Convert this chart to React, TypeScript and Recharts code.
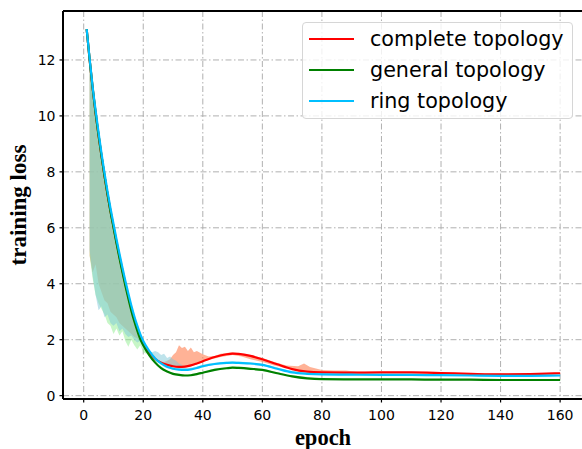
import React from "react";
import {
  ComposedChart,
  Line,
  Area,
  XAxis,
  YAxis,
  CartesianGrid,
  ReferenceLine,
} from "recharts";

// ---- data ----
const lineEpochs = [1, 2, 3, 4, 5, 6, 7, 8, 9, 10, 11, 12, 13, 14, 15, 16, 17, 18, 19, 20, 22, 24, 26, 28, 30, 32, 34, 36, 38, 40, 44, 48, 50, 52, 56, 60, 65, 70, 75, 80, 90, 100, 110, 120, 130, 140, 150, 160];
const completeLoss = [13.1, 12.0, 11.0, 10.1, 9.3, 8.55, 7.85, 7.2, 6.6, 6.05, 5.5, 4.98, 4.48, 4.0, 3.55, 3.12, 2.74, 2.4, 2.1, 1.86, 1.55, 1.32, 1.18, 1.1, 1.05, 1.03, 1.04, 1.08, 1.15, 1.23, 1.38, 1.48, 1.5, 1.49, 1.42, 1.3, 1.12, 0.95, 0.86, 0.83, 0.82, 0.83, 0.83, 0.81, 0.78, 0.76, 0.77, 0.8];
const generalLoss = [13.1, 12.0, 11.0, 10.1, 9.3, 8.55, 7.85, 7.2, 6.58, 6.02, 5.46, 4.93, 4.42, 3.93, 3.47, 3.04, 2.66, 2.32, 2.02, 1.8, 1.45, 1.18, 0.98, 0.86, 0.78, 0.74, 0.72, 0.73, 0.77, 0.82, 0.92, 0.98, 1.0, 0.99, 0.96, 0.92, 0.8, 0.69, 0.62, 0.59, 0.58, 0.58, 0.58, 0.57, 0.57, 0.56, 0.56, 0.56];
const ringLoss = [13.1, 12.05, 11.05, 10.2, 9.4, 8.65, 7.95, 7.3, 6.7, 6.15, 5.6, 5.08, 4.58, 4.1, 3.65, 3.22, 2.84, 2.5, 2.2, 1.95, 1.6, 1.33, 1.15, 1.03, 0.96, 0.93, 0.92, 0.94, 0.99, 1.05, 1.13, 1.17, 1.18, 1.17, 1.15, 1.1, 0.96, 0.83, 0.78, 0.76, 0.75, 0.74, 0.74, 0.73, 0.72, 0.71, 0.71, 0.72];

const bandEpochs = [2, 3, 4, 5, 6, 7, 8, 9, 10, 11, 12, 13, 14, 15, 16, 17, 18, 19, 20, 21, 22, 23, 24, 25, 26, 27, 28, 29, 30, 31, 32, 33, 34, 35, 36, 37, 38, 40, 42, 44, 46, 48, 50, 53, 56, 60, 64, 68, 72, 74, 76, 80, 84, 88, 92, 100, 110, 120, 130, 140, 150, 160];
const completeLow = [5.0, 4.4, 4.7, 4.0, 3.7, 3.4, 3.3, 3.0, 2.9, 2.8, 2.6, 2.5, 2.4, 2.3, 2.2, 2.1, 2.05, 1.95, 1.85, 1.7, 1.55, 1.45, 1.35, 1.28, 1.2, 1.15, 1.1, 1.06, 1.03, 1.01, 1.0, 1.0, 1.01, 1.02, 1.05, 1.08, 1.12, 1.2, 1.28, 1.33, 1.38, 1.42, 1.45, 1.4, 1.3, 1.2, 1.08, 0.98, 0.9, 0.88, 0.85, 0.82, 0.81, 0.8, 0.8, 0.8, 0.8, 0.79, 0.76, 0.74, 0.75, 0.77];
const completeHigh = [12.0, 11.0, 10.1, 9.3, 8.55, 7.85, 7.2, 6.6, 6.05, 5.5, 4.98, 4.48, 4.0, 3.55, 3.12, 2.74, 2.4, 2.1, 1.86, 1.7, 1.55, 1.42, 1.34, 1.28, 1.22, 1.2, 1.25, 1.3, 1.45, 1.55, 1.8, 1.7, 1.75, 1.6, 1.72, 1.55, 1.6, 1.48, 1.4, 1.42, 1.5, 1.52, 1.55, 1.5, 1.45, 1.35, 1.2, 1.08, 1.05, 1.15, 1.02, 0.92, 0.9, 0.9, 0.85, 0.85, 0.85, 0.83, 0.8, 0.79, 0.8, 0.82];
const generalLow = [5.0, 4.2, 3.6, 3.3, 3.1, 2.9, 2.6, 2.5, 2.2, 2.4, 2.15, 2.3, 1.95, 1.75, 2.0, 1.8, 1.65, 1.8, 1.55, 1.5, 1.6, 1.4, 1.3, 1.15, 1.05, 0.97, 0.9, 0.84, 0.8, 0.77, 0.75, 0.73, 0.72, 0.72, 0.72, 0.73, 0.75, 0.8, 0.85, 0.9, 0.94, 0.96, 0.97, 0.95, 0.92, 0.88, 0.8, 0.72, 0.66, 0.64, 0.62, 0.58, 0.57, 0.57, 0.57, 0.57, 0.57, 0.56, 0.56, 0.55, 0.55, 0.55];
const generalHigh = [12.0, 11.0, 10.1, 9.3, 8.55, 7.85, 7.2, 6.58, 6.02, 5.46, 4.93, 4.42, 3.93, 3.47, 3.04, 2.66, 2.32, 2.02, 1.8, 1.62, 1.45, 1.3, 1.2, 1.1, 1.02, 0.95, 0.9, 0.85, 0.82, 0.8, 0.78, 0.77, 0.76, 0.76, 0.77, 0.78, 0.8, 0.86, 0.92, 0.97, 1.0, 1.02, 1.04, 1.03, 1.0, 0.95, 0.86, 0.76, 0.7, 0.68, 0.66, 0.62, 0.6, 0.6, 0.59, 0.59, 0.59, 0.58, 0.58, 0.57, 0.57, 0.57];
const ringLow = [5.2, 4.3, 3.6, 3.05, 3.2, 2.8, 2.9, 2.6, 2.5, 2.6, 2.3, 2.4, 2.2, 2.1, 2.15, 2.0, 1.9, 1.95, 1.8, 1.7, 1.6, 1.45, 1.35, 1.2, 1.1, 1.02, 0.98, 0.95, 0.93, 0.92, 0.91, 0.9, 0.9, 0.91, 0.92, 0.94, 0.96, 1.01, 1.06, 1.1, 1.13, 1.14, 1.15, 1.14, 1.11, 1.06, 0.97, 0.88, 0.81, 0.79, 0.78, 0.74, 0.73, 0.73, 0.73, 0.72, 0.72, 0.71, 0.7, 0.69, 0.69, 0.7];
const ringHigh = [12.05, 11.05, 10.2, 9.4, 8.65, 7.95, 7.3, 6.7, 6.15, 5.6, 5.08, 4.58, 4.1, 3.65, 3.22, 2.84, 2.5, 2.2, 1.95, 1.78, 1.6, 1.55, 1.6, 1.55, 1.45, 1.5, 1.35, 1.4, 1.3, 1.25, 1.15, 1.1, 1.0, 1.0, 1.0, 1.02, 1.04, 1.1, 1.15, 1.18, 1.2, 1.21, 1.22, 1.21, 1.19, 1.14, 1.04, 0.92, 0.85, 0.83, 0.81, 0.78, 0.77, 0.77, 0.76, 0.76, 0.76, 0.75, 0.74, 0.73, 0.73, 0.74];

const xTicks = [0, 20, 40, 60, 80, 100, 120, 140, 160];
const yTicks = [0, 2, 4, 6, 8, 10, 12];
const seriesNames = ["complete topology", "general topology", "ring topology"];

// ---- table building ----
const toLine = (vals: number[]) => lineEpochs.map((e, i) => ({ epoch: e, v: vals[i] }));
const toBand = (lo: number[], hi: number[]) =>
  bandEpochs.map((e, i) => ({ epoch: e, range: [lo[i], hi[i]] }));

const completeLine = toLine(completeLoss);
const generalLine = toLine(generalLoss);
const ringLine = toLine(ringLoss);
const completeBand = toBand(completeLow, completeHigh);
const generalBand = toBand(generalLow, generalHigh);
const ringBand = toBand(ringLow, ringHigh);

const X_DOMAIN: [number, number] = [-6.95, 167.95];
const Y_DOMAIN: [number, number] = [-0.12, 13.75];

const lineColors = ["#ff0000", "#008000", "#00bfff"];
const tickFont = { fontFamily: "DejaVu Sans", fontSize: 14, fill: "#000" };

export default function App() {
  return (
    <div
      style={{
        position: "absolute",
        left: 0,
        top: 0,
        width: 582,
        height: 449,
        overflow: "hidden",
        background: "#fff",
      }}
    >
      <ComposedChart
        width={600}
        height={449}
        margin={{ top: 11, right: 16.2, bottom: 0, left: 8 }}
      >
        <CartesianGrid
          stroke="#b0b0b0"
          strokeDasharray="6 2.5 1.5 2.5"
          strokeWidth={1}
        />
        <XAxis
          type="number"
          dataKey="epoch"
          domain={X_DOMAIN}
          ticks={xTicks}
          allowDataOverflow
          height={50}
          tickSize={3.5}
          tickMargin={8}
          tick={tickFont}
          axisLine={{ stroke: "#000", strokeWidth: 2 }}
          tickLine={{ stroke: "#000", strokeWidth: 1.2 }}
        />
        <YAxis
          type="number"
          domain={Y_DOMAIN}
          ticks={yTicks}
          allowDataOverflow
          width={55}
          tickSize={3.5}
          tickMargin={4}
          tick={tickFont}
          axisLine={{ stroke: "#000", strokeWidth: 2 }}
          tickLine={{ stroke: "#000", strokeWidth: 1.2 }}
        />
        <ReferenceLine y={Y_DOMAIN[1]} stroke="#000" strokeWidth={2} ifOverflow="visible" />
        <Area
          data={completeBand}
          dataKey="range"
          type="linear"
          stroke="none"
          fill="#ff7f50"
          fillOpacity={0.6}
          isAnimationActive={false}
        />
        <Area
          data={generalBand}
          dataKey="range"
          type="linear"
          stroke="none"
          fill="#90ee90"
          fillOpacity={0.5}
          isAnimationActive={false}
        />
        <Area
          data={ringBand}
          dataKey="range"
          type="linear"
          stroke="none"
          fill="#7ec8d8"
          fillOpacity={0.5}
          isAnimationActive={false}
        />
        <Line
          data={completeLine}
          dataKey="v"
          type="monotone"
          stroke={lineColors[0]}
          strokeWidth={2.2}
          dot={false}
          isAnimationActive={false}
        />
        <Line
          data={generalLine}
          dataKey="v"
          type="monotone"
          stroke={lineColors[1]}
          strokeWidth={2.2}
          dot={false}
          isAnimationActive={false}
        />
        <Line
          data={ringLine}
          dataKey="v"
          type="monotone"
          stroke={lineColors[2]}
          strokeWidth={2.2}
          dot={false}
          isAnimationActive={false}
        />
      </ComposedChart>

      <svg
        width={582}
        height={449}
        style={{ position: "absolute", left: 0, top: 0, pointerEvents: "none" }}
      >
        <text
          x={323}
          y={445}
          textAnchor="middle"
          fontFamily="Liberation Serif"
          fontWeight="bold"
          fontSize={22.5}
          fill="#000"
        >
          epoch
        </text>
        <text
          x={26}
          y={205}
          textAnchor="middle"
          transform="rotate(-90 26 205)"
          fontFamily="Liberation Serif"
          fontWeight="bold"
          fontSize={23}
          fill="#000"
        >
          training loss
        </text>
      </svg>

      <div
        style={{
          position: "absolute",
          left: 302,
          top: 22,
          width: 269,
          height: 95,
          border: "1px solid #d6d6d6",
          borderRadius: 4,
          background: "rgba(255,255,255,0.8)",
          boxSizing: "content-box",
        }}
      >
        {seriesNames.map((name, i) => (
          <div
            key={name}
            style={{
              position: "absolute",
              left: 0,
              top: 16 + i * 31 - 12,
              height: 24,
              display: "flex",
              alignItems: "center",
              whiteSpace: "nowrap",
            }}
          >
            <div
              style={{
                marginLeft: 6,
                width: 45,
                height: 2.5,
                background: lineColors[i],
              }}
            />
            <span
              style={{
                marginLeft: 16,
                fontFamily: "DejaVu Sans",
                fontSize: 20.7,
                color: "#000",
                lineHeight: "24px",
              }}
            >
              {name}
            </span>
          </div>
        ))}
      </div>
    </div>
  );
}
